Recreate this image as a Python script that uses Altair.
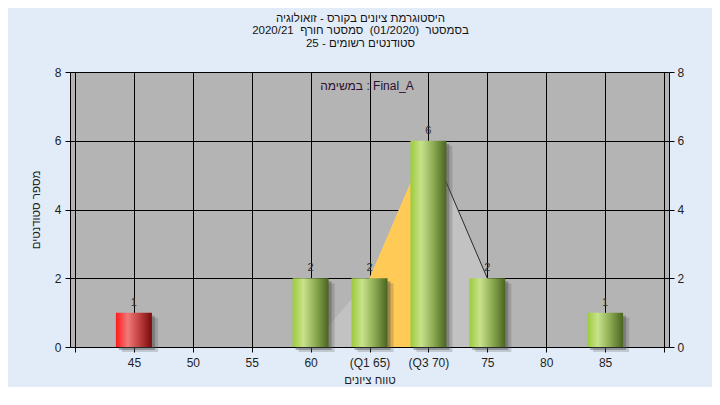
import altair as alt
import pandas as pd

# ---- data ----
bins = [45, 60, 65, 70, 75, 85]
counts = [1, 2, 2, 6, 2, 1]
failing = [True, False, False, False, False, False]

curve_x = [60, 65, 70, 75]
curve_y = [0, 2, 6, 2]
q1, q3 = 65, 70

x_tick_values = [45, 50, 55, 60, 65, 70, 75, 80, 85]
x_tick_labels = ["45", "50", "55", "60", "(Q1 65)", "(Q3 70)", "75", "80", "85"]
x_domain = [40, 90]
y_ticks = [0, 2, 4, 6, 8]

title_lines = [
    "היסטוגרמת ציונים בקורס - זואולוגיה",
    "בסמסטר \u00a0(01/2020) \u00a0סמסטר חורף \u00a02020/21",
    "סטודנטים רשומים - 25",
]
task_label = "במשימה : Final_A"
x_title = "טווח ציונים"
y_title = "מספר סטודנטים"

FONT = "Liberation Sans"
TXT = "#1e1e1e"

bars = pd.DataFrame({"grade": bins, "count": counts, "fail": failing})
curve = pd.DataFrame({"grade": curve_x, "v": curve_y})

label_expr = " : ".join(
    f"datum.value == {v} ? '{t}'" for v, t in zip(x_tick_values, x_tick_labels)
) + " : ''"

x_scale = alt.Scale(domain=x_domain, nice=False, zero=False)
y_scale = alt.Scale(domain=[0, 8], nice=False)

x_enc = alt.X(
    "grade:Q",
    scale=x_scale,
    axis=alt.Axis(
        values=[x_domain[0]] + x_tick_values + [x_domain[1]],
        labelExpr=label_expr,
        title=x_title,
        grid=True,
        gridColor="#000000",
        gridOpacity=1,
        domainColor="#000000",
        tickColor="#000000",
        tickSize=5,
        labelPadding=5,
        titlePadding=6,
        labelFontSize=12,
        titleFontSize=11.5,
        labelFont=FONT,
        titleFont=FONT,
        titleFontWeight="normal",
        labelColor=TXT,
        titleColor=TXT,
        labelFlush=False,
        labelOverlap=False,
    ),
)
x_plain = alt.X("grade:Q", scale=x_scale)

y_left = alt.Y(
    "count:Q",
    scale=y_scale,
    axis=alt.Axis(
        values=y_ticks,
        title=y_title,
        grid=True,
        gridColor="#000000",
        gridOpacity=1,
        domainColor="#000000",
        tickColor="#000000",
        tickSize=5,
        labelPadding=4,
        titlePadding=13,
        labelFontSize=12,
        titleFontSize=11.5,
        labelFont=FONT,
        titleFont=FONT,
        titleFontWeight="normal",
        labelColor=TXT,
        titleColor=TXT,
    ),
)

y_right = alt.Y(
    "count:Q",
    scale=y_scale,
    axis=alt.Axis(
        orient="right",
        values=y_ticks,
        title=None,
        grid=False,
        domainColor="#000000",
        tickColor="#000000",
        tickSize=5,
        labelPadding=3,
        labelFontSize=12,
        labelFont=FONT,
        labelColor=TXT,
    ),
)


def y_none(field):
    return alt.Y(field, scale=y_scale, axis=None)


green = alt.Gradient(
    gradient="linear",
    stops=[
        alt.GradientStop(color="#9ccb3b", offset=0),
        alt.GradientStop(color="#c8e28c", offset=0.3),
        alt.GradientStop(color="#8fae55", offset=0.62),
        alt.GradientStop(color="#4a6420", offset=1),
    ],
    x1=0, x2=1, y1=0, y2=0,
)
red = alt.Gradient(
    gradient="linear",
    stops=[
        alt.GradientStop(color="#ff1a1a", offset=0),
        alt.GradientStop(color="#f07a7a", offset=0.33),
        alt.GradientStop(color="#c04040", offset=0.65),
        alt.GradientStop(color="#780a0a", offset=1),
    ],
    x1=0, x2=1, y1=0, y2=0,
)

BAR_W = 36

gray_area = alt.Chart(curve).mark_area(color="#c2c2c2", opacity=1).encode(
    x=x_plain, y=y_none("v:Q")
)
orange_area = (
    alt.Chart(curve)
    .transform_filter(f"datum.grade >= {q1} && datum.grade <= {q3}")
    .mark_area(color="#ffca55", opacity=1)
    .encode(x=x_plain, y=y_none("v:Q"))
)
edge_line = (
    alt.Chart(curve)
    .transform_filter(f"datum.grade >= {q3}")
    .mark_line(color="#2a2a2a", strokeWidth=1)
    .encode(x=x_plain, y=y_none("v:Q"))
)

base = alt.Chart(bars)

shadow1 = base.mark_bar(size=BAR_W, color="#4a4a4a", opacity=0.4, xOffset=3, yOffset=3).encode(
    x=x_enc, y=y_left
)
shadow2 = base.mark_bar(size=BAR_W, color="#4a4a4a", opacity=0.22, xOffset=6, yOffset=5).encode(
    x=x_plain, y=y_none("count:Q")
)
green_bars = base.transform_filter("!datum.fail").mark_bar(size=BAR_W, color=green).encode(
    x=x_plain, y=y_none("count:Q")
)
red_bars = base.transform_filter("datum.fail").mark_bar(size=BAR_W, color=red).encode(
    x=x_plain, y=y_none("count:Q")
)
value_labels = base.mark_text(
    baseline="bottom", dy=-5, fontSize=11, font=FONT, color="#333333"
).encode(x=x_plain, y=y_right, text="count:Q")

task_text = (
    alt.Chart(pd.DataFrame({"t": [task_label]}))
    .mark_text(fontSize=12, font=FONT, color="#2a1030", baseline="middle", align="center")
    .encode(text="t:N", x=alt.value(297), y=alt.value(14))
)

chart = (
    alt.layer(
        gray_area, orange_area, edge_line, shadow2, shadow1, green_bars, red_bars,
        value_labels, task_text,
    )
    .resolve_axis(y="independent")
    .properties(
        width=599,
        height=275,
        autosize=alt.AutoSizeParams(type="none"),
        padding={"left": 62, "top": 64, "right": 43, "bottom": 40},
        background="#e2ecf8",
        title=alt.TitleParams(
            text=title_lines,
            fontSize=11.5,
            font=FONT,
            fontWeight="normal",
            color="#141414",
            lineHeight=12.5,
            anchor="middle",
            offset=17,
            dx=-9,
        ),
    )
    .configure_view(fill="#b4b4b4", stroke=None)
)

chart.save("out.html", embed_options={"renderer": "svg", "actions": False})
